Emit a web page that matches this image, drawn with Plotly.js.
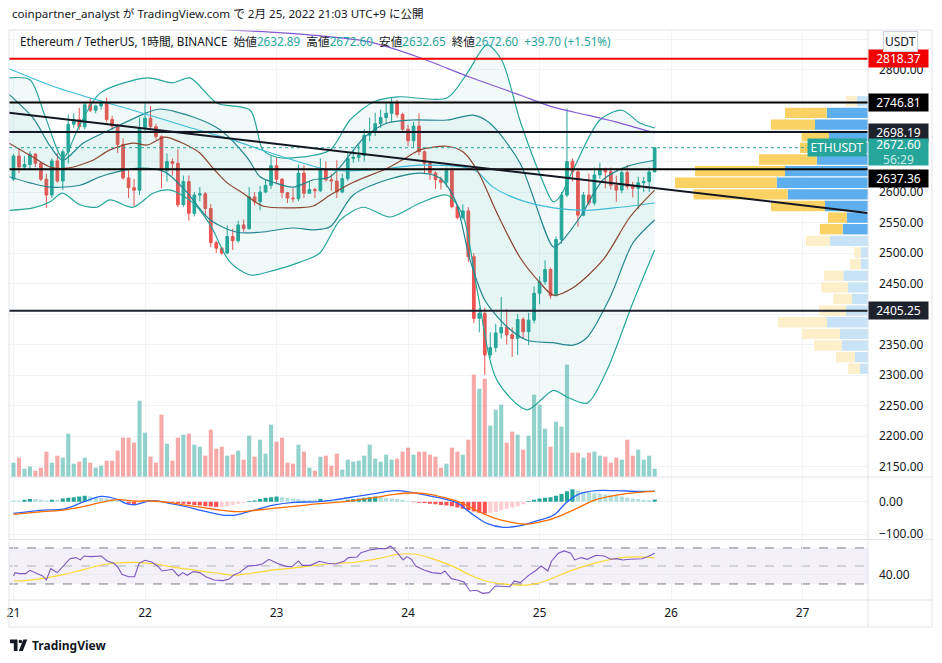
<!DOCTYPE html>
<html><head><meta charset="utf-8">
<script src="https://cdn.plot.ly/plotly-3.0.1.min.js"></script>
<style>html,body{margin:0;padding:0;background:#fff;}#chart{width:942px;height:663px;}</style>
</head><body><div id="chart"></div>
<script>
// ---------- DATA ----------
const dayTicks = [0,24,48,72,96,120,144];
const dayLabels = ['21','22','23','24','25','26','27'];

const open = [2621,2659,2641,2645,2662,2647,2621,2595,2651,2618,
2666,2711,2719,2707,2743,2734,2741,2745,2719,2708,
2678,2623,2607,2603,2705,2721,2707,2691,2635,2650,
2647,2579,2617,2565,2595,2597,2573,2517,2508,2500,
2527,2520,2546,2540,2592,2584,2600,2611,2643,2621,
2599,2590,2589,2631,2598,2604,2602,2636,2620,2618,
2600,2622,2655,2657,2660,2693,2699,2712,2722,2729,
2745,2727,2703,2684,2708,2666,2647,2631,2620,2616,
2635,2576,2558,2569,2494,2393,2401,2333,2345,2369,
2378,2366,2360,2391,2371,2390,2434,2453,2473,2430,
2522,2595,2650,2633,2562,2595,2582,2628,2637,2633,
2611,2603,2632,2609,2606,2615,2617,2632.89];
const high = [2662,2672,2659,2667,2664,2649,2630,2655,2664,2670,
2727,2729,2738,2747,2754,2743,2750,2755,2725,2712,
2688,2638,2621,2722,2748,2741,2712,2693,2663,2655,
2670,2627,2627,2600,2608,2600,2580,2520,2510,2545,
2540,2553,2555,2608,2600,2610,2620,2659,2657,2623,
2600,2606,2645,2644,2618,2607,2655,2650,2630,2652,
2630,2665,2668,2680,2703,2722,2730,2735,2745,2755,
2751,2730,2710,2715,2729,2668,2650,2634,2625,2640,
2640,2580,2580,2575,2500,2410,2410,2370,2384,2428,
2408,2378,2400,2395,2402,2445,2462,2488,2476,2527,
2600,2737,2655,2640,2600,2630,2640,2648,2640,2640,
2627,2640,2644,2617,2625,2625,2640,2672.60];
const low = [2618,2631,2636,2638,2641,2618,2574,2590,2615,2603,
2647,2705,2702,2703,2731,2729,2735,2714,2702,2664,
2620,2590,2577,2595,2699,2702,2686,2606,2617,2627,
2575,2576,2553,2560,2585,2560,2510,2500,2497,2498,
2505,2517,2535,2538,2578,2570,2598,2605,2615,2590,
2582,2583,2585,2590,2598,2590,2600,2617,2602,2590,
2598,2618,2648,2650,2650,2683,2692,2705,2712,2715,
2722,2697,2675,2672,2660,2630,2620,2605,2604,2608,
2573,2555,2555,2485,2385,2370,2300,2328,2338,2360,
2350,2330,2333,2360,2349,2385,2416,2448,2425,2430,
2515,2592,2617,2543,2560,2578,2578,2622,2606,2604,
2584,2598,2604,2591,2572,2600,2600,2632.65];
const close = [2659,2641,2645,2662,2647,2621,2595,2651,2618,2666,
2711,2719,2707,2743,2734,2741,2745,2719,2708,2678,
2623,2607,2603,2705,2721,2707,2691,2635,2650,2647,
2579,2617,2565,2595,2597,2573,2517,2508,2500,2527,
2520,2546,2540,2592,2584,2600,2611,2643,2621,2599,
2590,2589,2631,2598,2604,2602,2636,2620,2618,2600,
2622,2655,2657,2660,2693,2699,2712,2722,2729,2745,
2727,2703,2684,2708,2666,2647,2631,2620,2616,2635,
2576,2558,2569,2494,2393,2401,2333,2345,2369,2378,
2366,2360,2391,2371,2390,2434,2453,2473,2430,2522,
2595,2650,2633,2562,2595,2582,2628,2637,2633,2611,
2603,2632,2609,2606,2615,2617,2632.89,2672.60];
const lastChange = 39.70;
const lastChangePct = 1.51;
const volume = [43,58,25,31,19,28,76,43,64,58,
130,40,46,58,43,28,34,49,49,79,
118,118,103,229,133,61,43,187,100,49,
118,127,130,97,91,64,142,85,91,64,
67,79,52,124,61,112,70,157,106,118,
43,40,97,76,28,19,61,64,34,70,
22,52,46,49,64,97,55,46,67,52,
55,76,88,67,76,76,67,61,28,40,
88,76,67,112,307,265,295,154,202,217,
103,136,127,82,124,247,217,145,91,166,
151,337,73,73,58,73,76,64,61,43,
58,52,112,64,82,52,64,25];
const macdHist = [4,4,6,8,8,6,4,6,6,10,
12,14,16,18,16,14,12,10,8,6,
2,-6,-10,-4,2,4,3,1,-2,-3,
-5,-6,-8,-10,-12,-14,-15,-16,-16,-14,
-10,-6,-3,2,4,8,12,14,16,14,
12,10,8,6,6,6,8,6,4,4,
4,6,8,10,12,14,16,14,12,10,
8,6,2,-2,-3,-4,-6,-8,-10,-12,
-14,-18,-22,-26,-30,-34,-36,-34,-32,-26,
-22,-18,-14,-8,2,6,10,12,14,18,
24,32,38,34,30,28,26,24,22,20,
18,16,12,10,8,6,5,7];
const macdX = [0,5.3,9.1,12.9,16,19.1,20.6,22.1,25.2,28.2,31.3,34.4,38.2,40.5,43.5,47.4,51.2,55.8,58.8,62.7,66.5,69.5,72.6,75.7,78.7,81,83.3,86.4,89.4,92.5,95.6,98.6,100.9,103.2,106.3,110.1,113.9,117];
const macdY = [-35.9,-25.7,-22.6,0,16.4,6.2,-6.2,-9.2,3.1,-4.1,-14.4,-27.7,-41,-41,-27.7,-10.3,-2.1,0,6.2,16.4,26.7,33.9,28.7,18.5,8.2,-4.1,-32.8,-66.7,-79,-73.9,-58.5,-41,-2.1,23.6,33.9,33.9,31.8,32.8];
const signalX = [0,5.3,9.1,12.9,16,19.1,22.1,25.2,28.2,31.3,34.4,38.2,41.2,43.5,47.4,51.2,55.8,58.8,62.7,66.5,69.5,72.6,75.7,78.7,81.8,84.9,87.9,91,94,97.1,100.1,103.2,106.3,110.1,113.9,117];
const signalY = [-39,-30.8,-25.7,-14.4,-2.1,6.2,2.1,2.1,-2.1,-10.3,-17.4,-26.7,-30.8,-27.7,-20.5,-14.4,-6.2,-2.1,5.1,14.4,22.6,26.7,23.6,12.3,-4.1,-30.8,-51.3,-63.6,-68.7,-58.5,-41,-17.4,6.2,20.5,28.7,31.8];
const rsiX = [0,0.3,1.1,2.2,3,4.1,5.3,6,6.8,8,9.1,10.3,11.4,12.2,12.9,14.1,16,17.1,18.3,19.1,19.8,21,22.1,22.9,24,25.2,26.3,27.1,28.2,29,30.1,30.9,31.7,32.8,34,35.1,36.6,38.2,39.3,40.1,41.2,42.8,44.3,45.4,46.6,48.1,49.7,50.8,52,52.7,54.2,55.8,57.3,58.8,60.4,61.1,62.7,63.4,65,66.5,68,68.8,69.9,71.1,71.8,72.6,73.4,74.9,76.4,78,78.7,79.9,81,82.2,83.3,84.5,85.6,86.8,87.9,89.4,90.6,91.4,92.5,94,95.2,96.3,97.5,98.2,99.4,100.5,101.7,102.4,103.6,104.7,106.3,107.8,109,110.1,111.2,112.4,114.7,115.8,117];
const rsiY = [38.9,42.6,41.5,41.5,45.2,42.6,38.9,34.4,47,42.6,50,58.1,59.3,56.7,61.1,60.4,61.1,55.6,53,48.1,40.7,38.1,38.1,53,56.3,54.4,50,44.4,45.6,46.3,38.9,42.6,39.6,43.7,42.6,38.1,34.4,33.7,35.2,39.6,42.6,50,50.7,52.2,57.4,53,49.6,49.3,55.6,50.7,50.7,55.2,53,52.2,55.6,59.3,60,64.8,67.8,69.3,69.3,72.2,65.6,56.7,60.4,57.4,50,45.6,42.6,41.5,44.4,35.9,34.4,32.2,22.2,23,19.6,20.4,27.8,27.8,27,33.3,31.5,39.6,44.4,50,44.4,55.6,64.1,66.7,64.1,56.7,59.3,57.4,61.9,61.1,57.4,58.1,56.7,57.4,58.1,60.4,64.1];
const rsiMaX = [0,2.2,5.3,9.1,12.9,16.8,19.8,22.9,25.9,29.8,33.6,37.4,40.1,43.5,47.4,51.2,55,58.8,62.7,66.5,70.3,73.4,76.4,80.3,83.3,86.4,89.4,92.5,95.6,98.6,101.7,104.7,107.8,110.9,113.9,117];
const rsiMaY = [33.3,33.7,36.3,40.4,46.3,51.9,53.7,53.7,52.2,48.1,44.8,41.9,39.6,41.9,45.6,47.8,50.7,53,54.4,58.1,63,63,58.1,49.3,40,33,30,28.5,30.7,37,44.8,50.7,55.6,59.3,60,58.9];

const bbOuterUpperX = [-0.8,3,5.7,9,12.1,15.8,24.4,29.1,32.2,37.1,43.2,45.5,48.1,52.3,57.8,61.4,65.8,70.2,79.1,82.8,86.4,89.1,92.4,96.1,98.5,99.7,102.1,107,111,114.3,117];
const bbOuterUpperY = [2787,2784,2726,2656,2710,2762,2787,2779,2787,2746,2734,2669,2657,2657,2669,2718,2748,2756,2754,2795,2841,2816,2718,2628,2584,2592,2636,2718,2734,2713,2705];
const bbInnerUpperX = [-0.8,3.6,6.7,9,12.7,17.6,24.4,26.7,32.8,37.7,42.6,45,47.4,51,54.7,57.8,64.1,68.2,72.9,79.1,83.9,86.9,92.4,98.5,99.7,103.4,107.6,112,117];
const bbInnerUpperY = [2760,2721,2675,2652,2680,2702,2730,2736,2723,2702,2657,2625,2616,2608,2620,2625,2690,2713,2718,2718,2726,2713,2648,2510,2516,2559,2620,2642,2652];
const bbMidX = [-0.8,3.6,6.7,9.8,14.5,17.6,21.8,24.4,27.6,30.4,34,36.4,39,41.9,45.5,51,54.7,57.8,62,68.2,71.8,74.2,79.1,82,84.6,88.2,92.4,96.1,98.5,102.1,107.6,112.5,117];
const bbMidY = [2680,2657,2641,2639,2652,2669,2680,2677,2690,2682,2664,2639,2615,2598,2577,2574,2577,2595,2616,2639,2657,2669,2675,2666,2636,2566,2493,2451,2431,2443,2489,2559,2603];
const bbInnerLowerX = [-0.8,3,6.7,12.1,15.8,18.9,23.1,27.6,31.3,35.9,40.8,45,51,54.7,57.8,62,68.2,74.2,77.8,80.6,83.3,86,89.7,93.7,98.5,102.1,104.7,108.9,113,117];
const bbInnerLowerY = [2625,2615,2608,2611,2625,2633,2639,2633,2603,2554,2534,2534,2541,2538,2543,2595,2620,2631,2623,2587,2489,2423,2382,2357,2353,2349,2362,2428,2516,2554];
const bbOuterLowerX = [-0.8,3.6,6.7,8.9,12.1,15.2,17.6,21.8,25.5,28.6,32.8,35.9,39.5,43.2,47.7,52.3,55.9,59.6,63.8,68.7,74.2,79.1,82,84.6,88.2,93.7,98.5,101,104.7,108.3,113,117];
const bbOuterLowerY = [2570,2574,2584,2598,2579,2575,2587,2575,2598,2603,2582,2546,2485,2464,2472,2485,2500,2554,2575,2559,2582,2595,2562,2439,2292,2243,2275,2264,2254,2308,2418,2505];
const maCyanX = [-0.8,6.7,14,21.8,31.7,40.1,46.3,57.8,65.1,74.2,82,84.6,87.5,92.4,98.5,104.7,110.7,117];
const maCyanY = [2802,2775,2754,2734,2707,2685,2666,2636,2636,2644,2641,2633,2608,2587,2574,2570,2575,2582];
const maPurpleX = [38.5,46.8,55.9,65,74.2,83.3,92.4,98.5,104.7,110.7,117];
const maPurpleY = [2866,2862,2856,2846,2820,2788,2759,2739,2726,2713,2697];

const levels = [2818.37, 2746.81, 2698.19, 2637.36, 2405.25];
const trendX = [-0.82, 155.9];
const trendY = [2730, 2565.7];

const vpPrice = [2748.7,2729.6,2710.5,2691.5,2672.4,2653.3,2634.3,2615.2,2596.2,2577.1,2558.0,2539.0,2519.9,2500.8,2481.8,2462.8,2443.6,2424.6,2405.6,2386.6,2367.4,2348.4,2329.4,2310.4];
const vpUp = [11.3,41.3,53,39,38,51.3,83,91.3,80.3,43,21.3,25.3,38,7.3,7.3,24.7,20,16,22,41,28,26,13,8];
const vpDown = [10.7,41.7,44,27.3,30,57.7,90,101.7,94.3,54,18.7,22.7,24,6.7,10.7,19.3,27,19,27,49,38,28,19,12];
const valueAreaHigh = 2729.6, valueAreaLow = 2539.0;

// price ticks; those hidden behind labels in the reference are left blank
const priceTicks = [2150,2200,2250,2300,2350,2400,2450,2500,2550,2600,2650,2700,2750,2800,2850];
const hiddenTicks = [2400,2650,2700,2750,2850];

// ---------- LAYOUT HELPERS ----------
const W = 942, H = 663, ML = 9, MR = 74, MT = 30, MB = 63;
const PW = W - ML - MR, PH = H - MT - MB;
const fx = px => (px - ML) / PW;
const fy = py => (H - MB - py) / PH;
const FONT = 'Noto Sans, "Noto Sans CJK JP", sans-serif';
const TEAL = '#26a69a', RED = '#ef5350';

const idx = close.map((_, i) => i);
const last = close.length - 1;

// ---------- TRACES ----------
const traces = [];
traces.push({type:'bar', x:idx, y:volume, xaxis:'x', yaxis:'y', width:0.75,
  marker:{color: close.map((c,i)=> c>=open[i] ? 'rgba(38,166,154,0.5)' : 'rgba(239,83,80,0.5)')},
  hoverinfo:'skip'});

const ln = (x,y,color,extra) => Object.assign({type:'scatter', mode:'lines', x, y, xaxis:'x', yaxis:'y2',
  line:{color, width:1.2, shape:'spline', smoothing:0.8}, hoverinfo:'skip'}, extra||{});
traces.push(ln(bbOuterUpperX, bbOuterUpperY, '#26a69a'));
traces.push(ln(bbOuterLowerX, bbOuterLowerY, '#26a69a', {fill:'tonexty', fillcolor:'rgba(38,166,154,0.06)'}));
traces.push(ln(bbInnerUpperX, bbInnerUpperY, '#23868f'));
traces.push(ln(bbInnerLowerX, bbInnerLowerY, '#23868f', {fill:'tonexty', fillcolor:'rgba(38,166,154,0.06)'}));
traces.push(ln(maCyanX, maCyanY, '#3dbbd8'));
traces.push(ln(maPurpleX, maPurpleY, '#8458d2'));
traces.push(ln(bbMidX, bbMidY, '#8d4431'));

traces.push({type:'candlestick', x:idx, open, high, low, close, xaxis:'x', yaxis:'y2',
  increasing:{line:{color:TEAL, width:1}, fillcolor:TEAL},
  decreasing:{line:{color:RED, width:1}, fillcolor:RED},
  whiskerwidth:0, hoverinfo:'skip'});

const inVA = p => p <= valueAreaHigh + 1 && p >= valueAreaLow - 1;
traces.push({type:'bar', orientation:'h', x:vpUp, y:vpPrice, xaxis:'x2', yaxis:'y2', width:17,
  marker:{color: vpPrice.map(p => inVA(p) ? '#5daeec' : '#c9e3f6')}, hoverinfo:'skip'});
traces.push({type:'bar', orientation:'h', x:vpDown, base:vpUp, y:vpPrice, xaxis:'x2', yaxis:'y2', width:17,
  marker:{color: vpPrice.map(p => inVA(p) ? '#fad264' : '#fdefc9')}, hoverinfo:'skip'});

traces.push({type:'bar', x:idx, y:macdHist, xaxis:'x', yaxis:'y3', width:0.75,
  marker:{color: macdHist.map((v,i)=>{const p = i>0?macdHist[i-1]:v;
    return v>=0 ? (v>p ? '#26a69a' : '#b2dfdb') : (v<p ? '#ff5252' : '#ffcdd2');})}, hoverinfo:'skip'});
traces.push({type:'scatter', mode:'lines', x:macdX, y:macdY, xaxis:'x', yaxis:'y3',
  line:{color:'#2962ff', width:1.3, shape:'spline'}, hoverinfo:'skip'});
traces.push({type:'scatter', mode:'lines', x:signalX, y:signalY, xaxis:'x', yaxis:'y3',
  line:{color:'#ff6d00', width:1.3, shape:'spline'}, hoverinfo:'skip'});

traces.push({type:'scatter', mode:'lines', x:rsiMaX, y:rsiMaY, xaxis:'x', yaxis:'y4',
  line:{color:'#fdd835', width:1.2, shape:'spline'}, hoverinfo:'skip'});
traces.push({type:'scatter', mode:'lines', x:rsiX, y:rsiY, xaxis:'x', yaxis:'y4',
  line:{color:'#7e57c2', width:1.1}, hoverinfo:'skip'});

// ---------- SHAPES ----------
const GRID = '#f0f3fa', FRAME = '#e0e3eb';
const shapes = [];
const levelColors = ['#f20000','#000000','#131722','#000000','#1e222d'];
levels.forEach((v,i)=> shapes.push({type:'line', xref:'paper', x0:0, x1:1, yref:'y2', y0:v, y1:v,
  line:{color:levelColors[i], width:2}, layer:'above'}));
shapes.push({type:'line', xref:'paper', x0:0, x1:1, yref:'y2', y0:close[last], y1:close[last],
  line:{color:TEAL, width:1, dash:'dot'}, layer:'above'});
shapes.push({type:'line', xref:'x', yref:'y2', x0:trendX[0], y0:trendY[0], x1:trendX[1], y1:trendY[1],
  line:{color:'#131722', width:2}, layer:'above'});
shapes.push({type:'rect', xref:'paper', x0:0, x1:1, yref:'y4', y0:30, y1:70, fillcolor:'rgba(126,87,194,0.09)', line:{width:0}, layer:'below'});
[70,50,30].forEach(v=> shapes.push({type:'line', xref:'paper', x0:0, x1:1, yref:'y4', y0:v, y1:v,
  line:{color: v===50 ? '#b2b5be' : '#787b86', width:1, dash:'dash'}, layer:'below'}));
const hl = (py, x0, x1) => shapes.push({type:'line', xref:'paper', yref:'paper', x0:fx(x0), x1:fx(x1), y0:fy(py), y1:fy(py), line:{color:FRAME, width:1}, layer:'above'});
const vl = (px, y0, y1) => shapes.push({type:'line', xref:'paper', yref:'paper', x0:fx(px), x1:fx(px), y0:fy(y0), y1:fy(y1), line:{color:FRAME, width:1}, layer:'above'});
hl(30, 9, 932); hl(477, 9, 932); hl(539.5, 9, 932); hl(600, 9, 932); hl(627, 9, 932);
vl(9, 30, 627); vl(868, 30, 627); vl(932, 30, 627);
const P = (px,py) => fx(px).toFixed(5)+','+fy(py).toFixed(5);
shapes.push({type:'path', xref:'paper', yref:'paper', path:`M${P(10,639.5)} L${P(17.5,639.5)} L${P(17.5,651)} L${P(13.8,651)} L${P(13.8,643.2)} L${P(10,643.2)} Z`, fillcolor:'#131722', line:{width:0}});
shapes.push({type:'circle', xref:'paper', yref:'paper', x0:fx(18.6), x1:fx(22.2), y0:fy(643.3), y1:fy(639.7), fillcolor:'#131722', line:{width:0}});
shapes.push({type:'path', xref:'paper', yref:'paper', path:`M${P(23.3,639.5)} L${P(27.3,639.5)} L${P(22.8,651)} L${P(18.8,651)} Z`, fillcolor:'#131722', line:{width:0}});

// ---------- ANNOTATIONS ----------
const ann = [];
const sp = '\u00a0';
const tc = s => `<span style="color:${TEAL}">${s}</span>`;
ann.push({xref:'paper', yref:'paper', x:fx(10), y:fy(14), xanchor:'left', yanchor:'middle', showarrow:false,
  text:'coinpartner_analyst が TradingView.com で 2月 25, 2022 21:03 UTC+9 に公開', font:{size:11.6, color:'#131722'}});
ann.push({xref:'paper', yref:'paper', x:fx(18), y:fy(41.5), xanchor:'left', yanchor:'middle', showarrow:false,
  text:`Ethereum / TetherUS, 1時間, BINANCE${sp}${sp}始値${tc(open[last].toFixed(2))}${sp}${sp}高値${tc(high[last].toFixed(2))}${sp}${sp}安値${tc(low[last].toFixed(2))}${sp}${sp}終値${tc(close[last].toFixed(2))}${sp}${sp}${tc('+'+lastChange.toFixed(2)+' (+'+lastChangePct.toFixed(2)+'%)')}`,
  font:{size:11.7, color:'#131722'}});
const levelBg = ['#f20000','#000000','#1e222d','#000000','#1e222d'];
levels.forEach((v,i)=> ann.push({xref:'paper', yref:'y2', x:1, y:v, yshift: i===3 ? -9.5 : 0, xanchor:'left', yanchor:'middle', showarrow:false,
  text:v.toFixed(2), bgcolor:levelBg[i], font:{size:12, color:'#ffffff'}, width:57, height:15, borderpad:1, align:'center'}));
ann.push({xref:'paper', yref:'y2', x:1, y:close[last], yshift:-4, xanchor:'left', yanchor:'middle', showarrow:false,
  text:`${close[last].toFixed(2)}<br><span style="color:#c8ece8">56:29</span>`, bgcolor:TEAL, font:{size:12, color:'#ffffff'}, width:57, height:24, borderpad:1, align:'center'});
ann.push({xref:'paper', yref:'y2', x:fx(866.5), y:close[last], xanchor:'right', yanchor:'middle', showarrow:false,
  text:'ETHUSDT', bgcolor:TEAL, font:{size:12, color:'#ffffff'}, width:56, height:15, borderpad:1, align:'center'});
ann.push({xref:'paper', yref:'paper', x:fx(900.5), y:fy(41.5), xanchor:'center', yanchor:'middle', showarrow:false,
  text:'USDT', bgcolor:'#ffffff', bordercolor:'#d1d4dc', borderwidth:1, borderpad:1, font:{size:12, color:'#131722'}});
ann.push({xref:'paper', yref:'paper', x:fx(29.5), y:fy(645.5), xanchor:'left', yanchor:'middle', showarrow:false,
  text:'<b>TradingView</b>', font:{size:12, color:'#131722'}});

// ---------- LAYOUT ----------
const axisBase = {showline:false, zeroline:false, ticks:'', fixedrange:true};
const layout = {
  width:W, height:H, margin:{l:ML, r:MR, t:MT, b:MB, pad:0},
  paper_bgcolor:'#ffffff', plot_bgcolor:'#ffffff',
  font:{family:FONT, size:12, color:'#131722'},
  showlegend:false, hovermode:false, barmode:'overlay', dragmode:false,
  xaxis: Object.assign({}, axisBase, {domain:[0,1], anchor:'y4', range:[-0.82, 155.93],
    tickmode:'array', tickvals:dayTicks, ticktext:dayLabels, showgrid:true, gridcolor:GRID, gridwidth:1,
    rangeslider:{visible:false}, tickfont:{size:12}, ticklabelstandoff:4}),
  xaxis2: Object.assign({}, axisBase, {overlaying:'x', anchor:'y2', range:[PW, 0], visible:false, showgrid:false}),
  yaxis: Object.assign({}, axisBase, {domain:[fy(477), 1], anchor:'x', range:[0, 1341], visible:false, showgrid:false}),
  yaxis2: Object.assign({}, axisBase, {overlaying:'y', side:'right', anchor:'x', range:[2132.9, 2865.5],
    tickmode:'array', tickvals:priceTicks, ticktext:priceTicks.map(v => hiddenTicks.includes(v) ? '' : v.toFixed(2)),
    showgrid:true, gridcolor:GRID, ticklabelstandoff:10}),
  yaxis3: Object.assign({}, axisBase, {domain:[fy(539.5), fy(477)], side:'right', anchor:'x', range:[-116.3, 76],
    tickmode:'array', tickvals:[0,-100], tickformat:'.2f', showgrid:true, gridcolor:GRID, ticklabelstandoff:10}),
  yaxis4: Object.assign({}, axisBase, {domain:[0, fy(539.5)], side:'right', anchor:'x', range:[12.2, 79.4],
    tickmode:'array', tickvals:[40], ticktext:['40.00'], showgrid:true, gridcolor:'#e9ebf0', ticklabelstandoff:10}),
  shapes, annotations: ann
};

Plotly.newPlot('chart', traces, layout, {staticPlot:true, displayModeBar:false});
</script></body></html>
